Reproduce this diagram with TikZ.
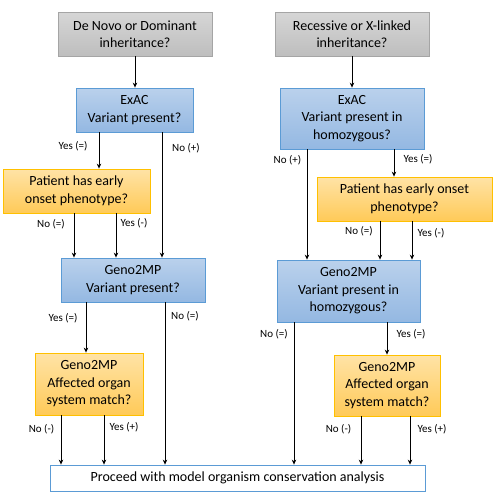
\documentclass[tikz,border=0pt]{standalone}
\usepackage{fontspec}
\setmainfont{Carlito}
\usetikzlibrary{arrows.meta}
\definecolor{grayedge}{HTML}{A5A5A5}
\definecolor{graytop}{HTML}{D6D6D6}
\definecolor{graybot}{HTML}{BEBEBE}
\definecolor{blueedge}{HTML}{5B9BD5}
\definecolor{bluetop}{HTML}{BAD1EC}
\definecolor{bluebot}{HTML}{94B8E2}
\definecolor{orangeedge}{HTML}{FFC000}
\definecolor{orangetop}{HTML}{FFE3A6}
\definecolor{orangebot}{HTML}{FFCA58}
\tikzset{
  box/.style={rectangle, inner sep=1pt, align=center, line width=0.8pt,
    font=\fontsize{14}{17.5}\selectfont},
  graybox/.style={box, draw=grayedge, top color=graytop, bottom color=graybot},
  bluebox/.style={box, draw=blueedge, top color=bluetop, bottom color=bluebot},
  orangebox/.style={box, draw=orangeedge, top color=orangetop, bottom color=orangebot},
  whitebox/.style={box, draw=blueedge, fill=white},
  arr/.style={-{Stealth[length=5pt,width=4.5pt]}, line width=0.8pt, black},
  lbl/.style={font=\fontsize{11}{13}\selectfont, inner sep=0pt}
}
\begin{document}
\begin{tikzpicture}[x=1pt,y=-1pt]
\useasboundingbox (0,0) rectangle (495,504);
% boxes
\node[graybox, minimum width=154pt, minimum height=44pt] (g1) at (135,34) {De Novo or Dominant\\inheritance?};
\node[bluebox, minimum width=117pt, minimum height=44pt] (e1) at (134.5,110) {ExAC\\Variant present?};
\node[orangebox, minimum width=147pt, minimum height=44pt] (o1) at (76.5,191) {Patient has early\\onset phenotype?};
\node[bluebox, minimum width=144pt, minimum height=44pt] (m1) at (133,280) {Geno2MP\\Variant present?};
\node[orangebox, minimum width=108pt, minimum height=62pt] (a1) at (89,384) {Geno2MP\\Affected organ\\system match?};
\node[graybox, minimum width=154pt, minimum height=44pt] (g2) at (352,34) {Recessive or X-linked\\inheritance?};
\node[bluebox, minimum width=144pt, minimum height=61pt] (e2) at (352,118.5) {ExAC\\Variant present in\\homozygous?};
\node[orangebox, minimum width=175pt, minimum height=44pt] (o2) at (404.5,199) {Patient has early onset\\phenotype?};
\node[bluebox, minimum width=143pt, minimum height=62pt] (m2) at (348.5,291) {Geno2MP\\Variant present in\\homozygous?};
\node[orangebox, minimum width=106pt, minimum height=61pt] (a2) at (387,385.5) {Geno2MP\\Affected organ\\system match?};
\node[whitebox, minimum width=375pt, minimum height=26pt] (fin) at (237.5,478) {Proceed with model organism conservation analysis};
% column coordinates
\foreach \c in {61,74,86,99,104,116,135,162,165,294,307,352,361,380,387,394,410,412}
  \coordinate (c\c) at (\c,0);
% connectors left
\draw[arr] (g1.south -| c135) -- (e1.north -| c135);
\draw[arr] (e1.south -| c99) -- (o1.north -| c99);
\draw[arr] (e1.south -| c162) -- (m1.north -| c162);
\draw[arr] (o1.south -| c74) -- (m1.north -| c74);
\draw[arr] (o1.south -| c116) -- (m1.north -| c116);
\draw[arr] (m1.south -| c86) -- (a1.north -| c86);
\draw[arr] (m1.south -| c165) -- (fin.north -| c165);
\draw[arr] (a1.south -| c61) -- (fin.north -| c61);
\draw[arr] (a1.south -| c104) -- (fin.north -| c104);
% connectors right
\draw[arr] (g2.south -| c352) -- (e2.north -| c352);
\draw[arr] (e2.south -| c394) -- (o2.north -| c394);
\draw[arr] (e2.south -| c307) -- (m2.north -| c307);
\draw[arr] (o2.south -| c380) -- (m2.north -| c380);
\draw[arr] (o2.south -| c412) -- (m2.north -| c412);
\draw[arr] (m2.south -| c294) -- (fin.north -| c294);
\draw[arr] (m2.south -| c387) -- (a2.north -| c387);
\draw[arr] (a2.south -| c361) -- (fin.north -| c361);
\draw[arr] (a2.south -| c410) -- (fin.north -| c410);
% labels left
\node[lbl] (l1) at (73,146) {Yes (=)};
\node[lbl] (l2) at (186,148) {No (+)};
\node[lbl] (l3) at (51,224) {No (=)};
\node[lbl] (l4) at (134,223) {Yes (-)};
\node[lbl] (l5) at (63,318) {Yes (=)};
\node[lbl] (l6) at (185,316) {No (=)};
\node[lbl] (l7) at (41.5,429) {No (-)};
\node[lbl] (l8) at (124,427) {Yes (+)};
% labels right
\node[lbl] (r1) at (287.5,160) {No (+)};
\node[lbl] (r2) at (418,159) {Yes (=)};
\node[lbl] (r3) at (359,231) {No (=)};
\node[lbl] (r4) at (431,233) {Yes (-)};
\node[lbl] (r5) at (274,334) {No (=)};
\node[lbl] (r6) at (411,334) {Yes (=)};
\node[lbl] (r7) at (338.5,429) {No (-)};
\node[lbl] (r8) at (432,429) {Yes (+)};
\end{tikzpicture}
\end{document}
